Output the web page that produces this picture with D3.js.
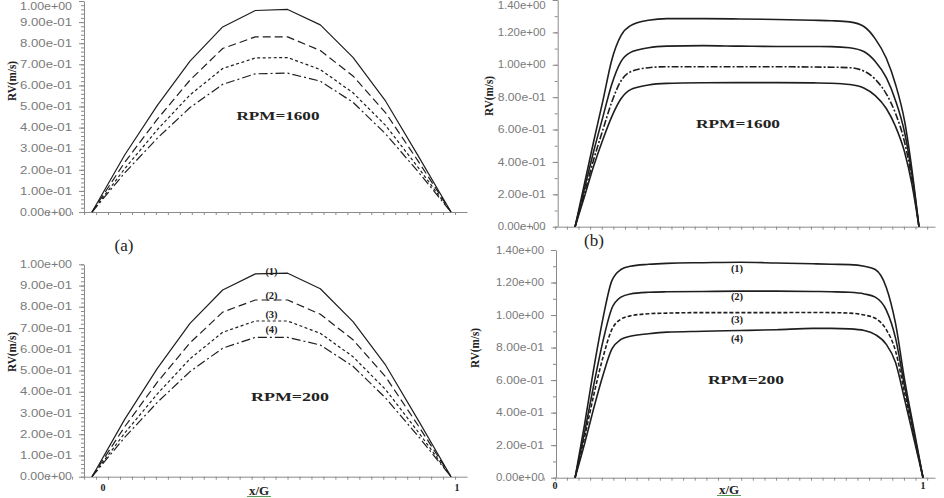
<!DOCTYPE html>
<html>
<head>
<meta charset="utf-8">
<script src="https://cdn.jsdelivr.net/npm/d3@7"></script>
<style>
  body { margin: 0; background: #fff; }
  .tick text { fill: #7a7a7a; font-family: "Liberation Sans", Arial, sans-serif; font-size: 10px; }
  .tick line, .domain { stroke: #8a8a8a; }
  .lbl { font-family: "Liberation Serif", "Times New Roman", serif; font-weight: bold; fill: #222; }
</style>
</head>
<body>
<svg id="chart" width="944" height="498"></svg>
<script>
// ---- data ----
// (a) panels: x/G nodes and RV (m/s) for curves (1)..(4)
const xiA = [0, 0.091, 0.182, 0.273, 0.364, 0.455, 0.545, 0.636, 0.727, 0.818, 0.909, 1];
const rvA1600 = [
  [0, 0.27, 0.505, 0.715, 0.877, 0.955, 0.96, 0.887, 0.733, 0.525, 0.265, 0],
  [0, 0.235, 0.44, 0.625, 0.775, 0.83, 0.83, 0.765, 0.645, 0.47, 0.24, 0],
  [0, 0.205, 0.39, 0.555, 0.68, 0.73, 0.732, 0.675, 0.565, 0.41, 0.21, 0],
  [0, 0.185, 0.35, 0.495, 0.605, 0.655, 0.658, 0.62, 0.52, 0.37, 0.19, 0]
];
const rvA200 = [
  [0, 0.27, 0.51, 0.722, 0.879, 0.955, 0.958, 0.885, 0.73, 0.525, 0.265, 0],
  [0, 0.235, 0.445, 0.63, 0.775, 0.832, 0.832, 0.765, 0.645, 0.47, 0.24, 0],
  [0, 0.205, 0.39, 0.555, 0.68, 0.733, 0.733, 0.675, 0.565, 0.41, 0.21, 0],
  [0, 0.185, 0.35, 0.495, 0.605, 0.656, 0.656, 0.62, 0.52, 0.37, 0.19, 0]
];
// (b) panels
const xiB1600 = [0.052, 0.078, 0.102, 0.128, 0.152, 0.177, 0.202, 0.252, 0.302, 0.402, 0.501, 0.601, 0.70, 0.75, 0.80, 0.84, 0.87, 0.90, 0.925, 0.95, 0.97, 0.989];
const rvB1600 = [
  [0, 0.27, 0.52, 0.78, 1.03, 1.18, 1.24, 1.275, 1.285, 1.285, 1.283, 1.28, 1.275, 1.272, 1.265, 1.235, 1.16, 1.04, 0.88, 0.65, 0.35, 0],
  [0, 0.24, 0.46, 0.68, 0.88, 1.02, 1.075, 1.105, 1.115, 1.118, 1.115, 1.113, 1.113, 1.112, 1.105, 1.08, 1.02, 0.92, 0.78, 0.58, 0.32, 0],
  [0, 0.21, 0.41, 0.6, 0.77, 0.9, 0.955, 0.982, 0.988, 0.988, 0.988, 0.988, 0.986, 0.985, 0.982, 0.96, 0.91, 0.82, 0.7, 0.52, 0.29, 0],
  [0, 0.19, 0.37, 0.54, 0.68, 0.79, 0.845, 0.875, 0.885, 0.889, 0.89, 0.89, 0.888, 0.886, 0.878, 0.855, 0.81, 0.73, 0.62, 0.46, 0.26, 0]
];
const xiB200 = [0.052, 0.078, 0.102, 0.128, 0.152, 0.177, 0.202, 0.252, 0.302, 0.402, 0.501, 0.601, 0.70, 0.75, 0.80, 0.84, 0.87, 0.90, 0.925, 0.95, 0.975, 1.0];
const rvB200 = [
  [0, 0.33, 0.66, 0.98, 1.21, 1.28, 1.30, 1.312, 1.318, 1.322, 1.325, 1.32, 1.315, 1.312, 1.31, 1.30, 1.28, 1.17, 0.95, 0.6, 0.3, 0],
  [0, 0.28, 0.56, 0.84, 1.04, 1.11, 1.13, 1.14, 1.143, 1.145, 1.147, 1.147, 1.145, 1.143, 1.14, 1.13, 1.11, 1.03, 0.86, 0.56, 0.28, 0],
  [0, 0.25, 0.5, 0.74, 0.91, 0.975, 0.995, 1.008, 1.012, 1.015, 1.015, 1.015, 1.016, 1.015, 1.012, 1.0, 0.98, 0.91, 0.78, 0.52, 0.26, 0],
  [0, 0.21, 0.42, 0.63, 0.79, 0.85, 0.87, 0.885, 0.895, 0.9, 0.905, 0.91, 0.918, 0.918, 0.915, 0.905, 0.88, 0.82, 0.71, 0.48, 0.24, 0]
];
const curveTags = ["(1)", "(2)", "(3)", "(4)"];

const svg = d3.select("#chart");

// 9.00e-01 style labels
function sci(v) {
  let [m, e] = v.toExponential(2).split("e");
  let s = e[0] === "-" ? "-" : "+";
  let n = Math.abs(+e);
  return m + "e" + s + (n < 10 ? "0" + n : n);
}

function panel(p) {
  const g = svg.append("g");
  const x = d3.scaleLinear().domain([0, 1]).range(p.xr);
  const y = d3.scaleLinear().domain([0, p.ymax]).range(p.yr);

  // y axis with labels + minor ticks
  const yl = g.append("g").attr("transform", `translate(${p.ax},0)`)
    .call(d3.axisLeft(y).tickValues(d3.range(0, p.ymax + 1e-9, p.major)).tickSize(5).tickSizeOuter(0).tickPadding(7).tickFormat(sci));
  // keep the topmost label inside the frame when the axis touches the top edge
  yl.selectAll("text").attr("textLength", p.labLen).attr("lengthAdjust", "spacingAndGlyphs")
    .attr("dy", d => (p.yr[1] < 5 && Math.abs(d - p.ymax) < 1e-6) ? "0.85em" : "0.32em");
  g.append("g").attr("transform", `translate(${p.ax},0)`)
    .call(d3.axisLeft(y).tickValues(d3.range(0, p.ymax + 1e-9, p.minor)).tickSize(3).tickSizeOuter(0).tickFormat(""))
    .select(".domain").remove();

  // x axis line with small ticks
  const xa = x.copy().domain([x.invert(p.ax), x.invert(p.axEnd)]).range([p.ax, p.axEnd]);
  const xt = d3.range(p.xt0, x.invert(p.axEnd), p.xstep / 3);
  g.append("g").attr("transform", `translate(0,${p.yr[0]})`)
    .call(d3.axisBottom(xa).tickValues(xt).tickSize(3).tickSizeOuter(0).tickFormat(""));

  const line = d3.line().x((d, i) => x(p.xi[i])).y(d => y(d)).curve(p.curve);
  p.series.forEach((s, k) => {
    g.append("path").datum(s)
      .attr("fill", "none").attr("stroke", "#1e1e1e")
      .attr("stroke-width", p.sw).attr("stroke-dasharray", p.dash[k])
      .attr("stroke-linejoin", "round")
      .attr("d", line);
  });

  // y title
  g.append("text").attr("class", "lbl")
    .attr("transform", `translate(${p.title[0]},${p.title[1]}) rotate(-90)`)
    .attr("text-anchor", "middle").attr("dominant-baseline", "middle")
    .attr("font-size", 12).attr("textLength", 40).attr("lengthAdjust", "spacingAndGlyphs")
    .text("RV(m/s)");

  g.append("text").attr("class", "lbl")
    .attr("x", p.rpm[0]).attr("y", p.rpm[1]).attr("text-anchor", "middle")
    .attr("font-size", 13).attr("textLength", p.rpm[2]).attr("lengthAdjust", "spacingAndGlyphs")
    .text(p.rpmText);

  if (p.tags) {
    p.tags.forEach((t, k) => {
      g.append("text").attr("class", "lbl")
        .attr("x", t[0]).attr("y", t[1]).attr("text-anchor", "middle")
        .attr("dominant-baseline", "middle").attr("font-size", 10.5)
        .text(curveTags[k]);
    });
  }
  if (p.xlab) {
    g.append("text").attr("class", "lbl").attr("x", p.xlab.zero).attr("y", p.xlab.y)
      .attr("text-anchor", "middle").attr("font-size", 10).text("0");
    g.append("text").attr("class", "lbl").attr("x", p.xlab.one).attr("y", p.xlab.y)
      .attr("text-anchor", "middle").attr("font-size", 10).text("1");
    g.append("text").attr("class", "lbl").attr("x", p.xlab.g).attr("y", p.xlab.gy)
      .attr("text-anchor", "middle").attr("font-size", 13).text("x/G");
    g.append("line").attr("x1", p.xlab.g - 12).attr("x2", p.xlab.g + 12)
      .attr("y1", p.xlab.gy + 1.5).attr("y2", p.xlab.gy + 1.5)
      .attr("stroke", "#5a9a5a").attr("stroke-width", 1);
  }
}

const dashA = [null, "8,4", "3,2.5", "9,3,2,3"];

panel({ xr: [92, 451], yr: [212, 1], ymax: 1, major: 0.1, minor: 0.02, ax: 84, axEnd: 467,
  labLen: 52, xt0: 0.078 - 0.2, xstep: 0.1, xi: xiA, series: rvA1600, dash: dashA, sw: 1.2,
  curve: d3.curveLinear, title: [13, 81], rpm: [278, 120, 83], rpmText: "RPM=1600" });

panel({ xr: [92, 451], yr: [476.7, 264.3], ymax: 1, major: 0.1, minor: 0.02, ax: 84, axEnd: 467,
  labLen: 52, xt0: 0.078 - 0.2, xstep: 0.1, xi: xiA, series: rvA200, dash: dashA, sw: 1.2,
  curve: d3.curveLinear, title: [13, 352], rpm: [290, 401, 78], rpmText: "RPM=200",
  tags: [[271.5, 273], [271.5, 297], [271.5, 316], [271.5, 331]],
  xlab: { zero: 103, one: 457, y: 491, g: 259, gy: 495 } });

panel({ xr: [556, 923], yr: [226.7, 0], ymax: 1.4, major: 0.2, minor: 0.1, ax: 557.7, axEnd: 935,
  labLen: 48, xt0: 0.093 - 0.19, xstep: 0.095, xi: xiB1600, series: rvB1600,
  dash: [null, null, "7,2,2,2", null], sw: 1.6, curve: d3.curveMonotoneX,
  title: [490, 96], rpm: [738, 128, 84], rpmText: "RPM=1600" });

panel({ xr: [556, 923], yr: [477.7, 250], ymax: 1.4, major: 0.2, minor: 0.1, ax: 556, axEnd: 935,
  labLen: 48, xt0: 0.093 - 0.19, xstep: 0.095, xi: xiB200, series: rvB200,
  dash: [null, null, "4,2", null], sw: 1.6, curve: d3.curveMonotoneX,
  title: [476, 348], rpm: [746, 384, 76], rpmText: "RPM=200",
  tags: [[737, 269.5], [737, 298], [737, 321], [737, 339.5]],
  xlab: { zero: 555, one: 923, y: 489, g: 729, gy: 494 } });

// panel letters
svg.append("text").attr("x", 124).attr("y", 251).attr("text-anchor", "middle")
  .attr("font-family", "Liberation Serif, serif").attr("font-size", 17).attr("fill", "#222").text("(a)");
svg.append("text").attr("x", 594).attr("y", 246).attr("text-anchor", "middle")
  .attr("font-family", "Liberation Serif, serif").attr("font-size", 17).attr("fill", "#222").text("(b)");
</script>
</body>
</html>
